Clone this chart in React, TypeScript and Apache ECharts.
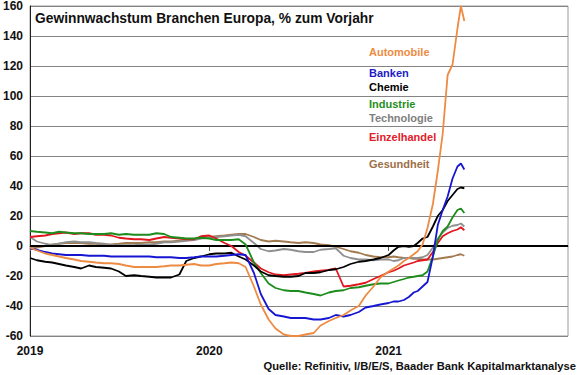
import React, { useEffect, useRef } from "react";
import * as echarts from "echarts";

const dates = [
  "2019-01-01","2019-01-15","2019-02-01","2019-02-15","2019-03-01","2019-03-15","2019-04-01","2019-04-15",
  "2019-05-01","2019-05-15","2019-06-01","2019-06-15","2019-07-01","2019-07-15","2019-08-01","2019-08-15",
  "2019-09-01","2019-09-15","2019-10-01","2019-10-15","2019-11-01","2019-11-15","2019-12-01","2019-12-15",
  "2020-01-01","2020-01-15","2020-02-01","2020-02-15","2020-03-01","2020-03-15","2020-04-01","2020-04-15",
  "2020-05-01","2020-05-15","2020-06-01","2020-06-15","2020-07-01","2020-07-15","2020-08-01","2020-08-15",
  "2020-09-01","2020-09-15","2020-10-01","2020-10-15","2020-11-01","2020-11-15","2020-12-01","2020-12-15",
  "2021-01-01","2021-01-11","2021-01-21","2021-02-01","2021-02-11","2021-02-21","2021-03-01","2021-03-11",
  "2021-03-21","2021-04-01","2021-04-11","2021-04-21","2021-05-01","2021-05-11","2021-05-21","2021-05-28",
  "2021-06-04",
];

const automobile = [
  -1,-3,-5,-6,-7,-8,-9,-10,-10.5,-11,-11.5,-11.5,-12,-13,-14,-14,-14,-14,-13.5,-13,-13,-12.5,-12,-13,
  -13,-12,-11.5,-11,-11.5,-14,-27,-39,-49,-55,-59,-60,-60,-59,-58,-53,-50,-48,-46,-43,-40,-33,-27,-21,
  -17,-15,-13,-10,-8,-5.5,-3.5,1,12,28,50,75,114,121,145,160,150,
];
const banken = [
  -1.5,-2.5,-4,-5,-5.5,-6,-6,-6,-6.5,-6.5,-6.5,-7,-7,-7,-7,-7,-7,-7.5,-7.5,-7.5,-8,-8,-7.5,-7,
  -7,-7,-6.5,-6,-5.5,-6,-18,-32,-42,-46,-47,-48,-48,-48,-49,-49,-48,-46,-47,-46,-44,-41,-40,-39,
  -38,-37,-37,-36,-34,-31,-30,-27,-24,-7,14,24,33,45,53,55,51,
];
const chemie = [
  -8,-9.5,-10.5,-11,-12,-13,-14,-15,-13,-14,-14.5,-15,-17,-20,-19.5,-20,-20.5,-21,-21,-21,-19,-10,-8,-7,
  -5.5,-5,-5,-4.5,-7,-9,-13,-17,-19.5,-20,-20.5,-20.5,-20,-18,-18,-17.5,-16,-15.5,-14,-12,-10.5,-10,-9,-8,
  -6,-3,-0.5,0,-0.5,0,2,5,6,13,20,24,30,34,38,39,38.5,
];
const industrie = [
  10,9.5,9,8.5,9.5,9,8.5,8.5,8,8,8,8.5,7.5,8,7.5,7.5,7.5,8.5,8,6,5.5,5,5,5.5,
  5,4,4,4,4.5,1,-11,-18,-25,-28,-29.5,-30,-30,-31,-32,-33,-31,-30,-29.5,-28,-27.5,-26.5,-25.5,-25,
  -25,-24,-23,-22,-21,-20.5,-20,-19.5,-17,-7,4,10,13,19,24,25,22,
];
const technologie = [
  6,3,1.5,0.5,1.5,2.5,3,2.5,2.5,2,1.5,0.5,0.5,0.5,0.5,1,1,1.5,2.5,2.5,3,3.5,4,5,
  5.5,6,6.5,7,7.5,6.5,2,-2,-3.5,-3,-2,-2.5,-3.5,-4,-4,-2.5,-2,-1.5,-6.5,-8,-9,-9,-9.5,-9,
  -9,-10,-9.5,-8,-8,-8,-8,-7.5,-6,-1,5,9,12,13.5,14,15,13,
];
const einzelhandel = [
  6,6.5,7,8,8.5,9,8,8.5,8.5,7.5,7.5,7,5.5,5,4.5,4.5,4,5,6,5.5,5,4.5,4.5,6.5,
  7,5,2,0,-4,-6.5,-11,-15,-17.5,-19,-19.5,-19,-18.5,-18,-17,-16.5,-16,-15,-27,-26.5,-25.5,-24.5,-22,-20,
  -17.5,-16.5,-15,-13,-12,-11,-10,-9.5,-9,-4,2,6.5,8.5,10,11,12.5,10.5,
];
const gesundheit = [
  -2,-1,0,1,1.5,2,2,2,1.5,1.5,1,1,1.5,2,2,2,2.5,2.5,3,3,3.5,4,4.5,5.5,
  6,6.5,7,7.5,8,8,6,4,3,3.5,3,2.5,2,2.5,2,1,0.5,-0.5,-2,-3.5,-4.5,-6,-7,-7.5,
  -7.5,-7,-7.5,-8,-8,-8.5,-8.5,-9,-9,-9,-8.5,-8,-7.5,-7,-6,-5.5,-6.5,
];

const seriesNames = ["Gesundheit", "Technologie", "Einzelhandel", "Industrie", "Chemie", "Banken", "Automobile"];
const seriesValues = [gesundheit, technologie, einzelhandel, industrie, chemie, banken, automobile];
const seriesColors = ["#A27A50", "#8F8F8F", "#E2161E", "#1C8C1C", "#000000", "#1616D2", "#EE8B43"];

const labelNames = ["Automobile", "Banken", "Chemie", "Industrie", "Technologie", "Einzelhandel", "Gesundheit"];
const labelColors = ["#EE8B43", "#1C1CC8", "#000000", "#1F8F1F", "#7F7F7F", "#E2202A", "#9C7048"];
const labelY = [52, 73, 87, 104, 118, 137, 164];

const yearTicks = [2019, 2020, 2021];

const FONT = "'Liberation Sans', Arial, sans-serif";

function toYear(s: string): number {
  const [y, m, d] = s.split("-").map(Number);
  const start = Date.UTC(y, 0, 1);
  const end = Date.UTC(y + 1, 0, 1);
  return y + (Date.UTC(y, m - 1, d) - start) / (end - start);
}

export default function App() {
  const ref = useRef<HTMLDivElement>(null);
  useEffect(() => {
    if (!ref.current) return;
    const chart = echarts.init(ref.current, null, { renderer: "svg" });
    const xs = dates.map(toYear);
    const series: any[] = seriesNames.map((name, k) => ({
      name,
      type: "line",
      data: xs.map((x, i) => [x, seriesValues[k][i]]),
      symbol: "none",
      lineStyle: { color: seriesColors[k], width: 1.8 },
      itemStyle: { color: seriesColors[k] },
      z: 3 + k,
    }));
    series.push({
      type: "line",
      data: [],
      silent: true,
      markLine: {
        silent: true,
        symbol: "none",
        label: { show: false },
        lineStyle: { color: "#000", width: 2, type: "solid" },
        data: [{ yAxis: 0 }],
      },
      z: 2,
    });
    chart.setOption({
      animation: false,
      backgroundColor: "#fff",
      grid: {
        left: 28, right: 12, top: 6, bottom: 39,
        show: true, borderColor: "#9a9a9a", borderWidth: 1,
      },
      xAxis: {
        type: "value",
        min: 2019,
        max: 2022,
        interval: 1,
        axisLine: { show: true, lineStyle: { color: "#555", width: 1 } },
        axisTick: { show: true, length: 5, lineStyle: { color: "#555" } },
        splitLine: { show: false },
        axisLabel: {
          margin: 9,
          color: "#111",
          fontFamily: FONT,
          fontWeight: "bold",
          fontSize: 12,
          showMaxLabel: false,
          formatter: (v: number) => (yearTicks.includes(Math.round(v)) ? String(Math.round(v)) : ""),
        },
      },
      yAxis: {
        type: "value",
        min: -60,
        max: 160,
        interval: 20,
        axisLine: { show: true, onZero: false, lineStyle: { color: "#222", width: 1 } },
        axisTick: { show: false },
        splitLine: { show: true, lineStyle: { color: "#848484", width: 1 } },
        axisLabel: {
          margin: 7,
          color: "#111",
          fontFamily: FONT,
          fontWeight: "bold",
          fontSize: 12,
        },
      },
      series,
      graphic: [
        {
          type: "text",
          x: 35,
          y: 18,
          z: 100,
          style: {
            text: "Gewinnwachstum Branchen Europa, % zum Vorjahr",
            fill: "#111",
            font: `bold 13.8px ${FONT}`,
            textVerticalAlign: "middle",
          },
        },
        ...labelNames.map((t, i) => ({
          type: "text",
          x: 369,
          y: labelY[i],
          z: 100,
          style: {
            text: t,
            fill: labelColors[i],
            font: `bold 11px ${FONT}`,
            textVerticalAlign: "middle",
          },
        })),
        {
          type: "text",
          x: 576,
          y: 366,
          z: 100,
          style: {
            text: "Quelle: Refinitiv, I/B/E/S, Baader Bank Kapitalmarktanalyse",
            fill: "#111",
            font: `bold 11.2px ${FONT}`,
            textAlign: "right",
            textVerticalAlign: "middle",
          },
        },
      ],
    });
    return () => chart.dispose();
  }, []);
  return (
    <div
      ref={ref}
      style={{ position: "absolute", left: 0, top: 0, width: 580, height: 375, background: "#fff" }}
    />
  );
}
